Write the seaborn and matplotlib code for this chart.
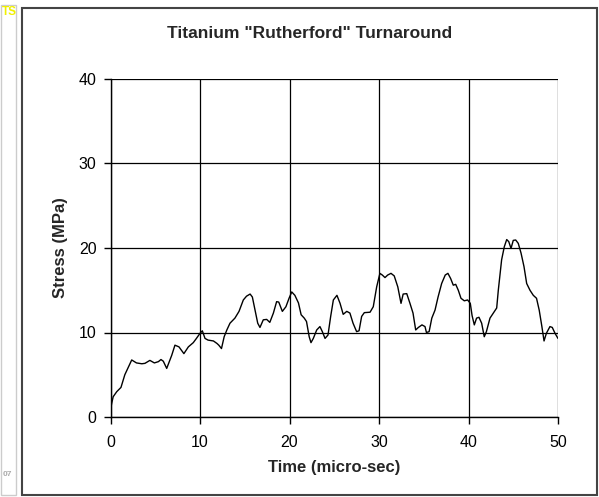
import matplotlib
matplotlib.use("Agg")
import matplotlib.pyplot as plt
import seaborn as sns
import pandas as pd
from matplotlib.patches import Rectangle

time_us = [
    0.0, 0.13, 0.3, 0.7, 1.17, 1.6, 2.37, 2.9, 3.5, 3.85,
    4.4, 4.9, 5.35, 5.64, 5.9, 6.28, 6.84, 7.2, 7.65, 8.2,
    8.7, 9.25, 9.6, 10.0, 10.26, 10.56, 10.9, 11.5, 11.9, 12.1,
    12.4, 12.7, 13.0, 13.35, 13.9, 14.36, 14.84, 15.2, 15.6, 15.85,
    16.15, 16.45, 16.7, 17.07, 17.45, 17.8, 18.2, 18.56, 18.8, 19.2,
    19.6, 19.95, 20.25, 20.6, 21.0, 21.3, 21.65, 21.9, 22.2, 22.4,
    22.66, 23.04, 23.4, 23.67, 23.97, 24.3, 24.6, 24.9, 25.3, 25.65,
    26.0, 26.4, 26.75, 27.1, 27.5, 27.77, 28.06, 28.36, 29.0, 29.36,
    29.74, 30.1, 30.37, 30.67, 30.97, 31.34, 31.7, 32.1, 32.46, 32.7,
    33.1, 33.46, 33.8, 34.1, 34.4, 34.8, 35.14, 35.3, 35.6, 35.9,
    36.26, 36.6, 37.0, 37.4, 37.7, 38.0, 38.3, 38.57, 38.86, 39.16,
    39.53, 39.9, 40.2, 40.4, 40.65, 40.9, 41.17, 41.47, 41.76, 42.0,
    42.4, 42.77, 43.15, 43.33, 43.7, 44.0, 44.27, 44.5, 44.75, 45.0,
    45.27, 45.56, 45.87, 46.2, 46.5, 46.87, 47.24, 47.6, 47.9, 48.2,
    48.44, 48.7, 49.1, 49.36, 49.67, 50.0,
]
stress_mpa = [
    0.8, 1.6, 2.4, 3.0, 3.5, 5.0, 6.75, 6.4, 6.3, 6.35,
    6.7, 6.4, 6.55, 6.8, 6.6, 5.75, 7.3, 8.5, 8.3, 7.5,
    8.3, 8.8, 9.3, 9.9, 10.2, 9.3, 9.1, 9.0, 8.7, 8.5,
    8.1, 9.5, 10.3, 11.1, 11.7, 12.5, 13.85, 14.3, 14.55, 14.2,
    12.65, 11.1, 10.6, 11.5, 11.55, 11.2, 12.3, 13.65, 13.6, 12.5,
    13.05, 14.05, 14.8, 14.4, 13.5, 12.1, 11.7, 11.3, 9.5, 8.8,
    9.3, 10.3, 10.7, 10.1, 9.3, 9.7, 11.9, 13.85, 14.4, 13.45,
    12.15, 12.5, 12.3, 11.1, 10.1, 10.2, 11.9, 12.35, 12.4, 13.05,
    15.4, 17.0, 16.8, 16.5, 16.8, 17.0, 16.7, 15.4, 13.45, 14.55,
    14.6, 13.45, 12.3, 10.3, 10.6, 10.9, 10.7, 10.0, 10.1, 11.7,
    12.65, 14.2, 15.8, 16.8, 17.0, 16.4, 15.6, 15.7, 15.0, 14.05,
    13.75, 13.85, 13.45, 12.0, 10.9, 11.7, 11.8, 11.1, 9.5, 10.1,
    11.7, 12.3, 12.9, 15.0, 18.6, 20.15, 21.0, 20.75, 19.95, 20.9,
    20.95, 20.55, 19.4, 17.8, 15.8, 15.0, 14.4, 14.05, 12.65, 10.7,
    9.0, 9.9, 10.7, 10.6, 9.9, 9.3,
]
x_ticks = [0, 10, 20, 30, 40, 50]
y_ticks = [0, 10, 20, 30, 40]
title = 'Titanium "Rutherford" Turnaround'
x_label = "Time (micro-sec)"
y_label = "Stress (MPa)"

sns.set_style("white")
plt.rcParams["font.family"] = ["Liberation Sans", "DejaVu Sans"]

df = pd.DataFrame({"time": time_us, "stress": stress_mpa})

W, H = 599, 497
fig = plt.figure(figsize=(W / 100, H / 100), dpi=100)
fig.patch.set_facecolor("white")

# axes placement (pixel based)
left, right, top, bottom = 110.5, 558.0, 79.0, 417.0
ax = fig.add_axes([left / W, 1 - bottom / H, (right - left) / W, (bottom - top) / H])

sns.lineplot(data=df, x="time", y="stress", ax=ax, color="black",
             linewidth=1.0, sort=False, estimator=None)

ax.set_xlim(0, 50)
ax.set_ylim(0, 40)
ax.set_xticks(x_ticks)
ax.set_yticks(y_ticks)
ax.grid(True, color="black", linewidth=0.9)
ax.set_axisbelow(True)
for side in ["top", "right"]:
    ax.spines[side].set_visible(False)
for side in ["left", "bottom"]:
    ax.spines[side].set_color("black")
    ax.spines[side].set_linewidth(1.0)
ax.tick_params(axis="both", direction="out", length=5, width=1.0,
               color="black", labelsize=11.5, labelcolor="black",
               left=True, bottom=True)
ax.tick_params(axis="x", pad=8)
ax.tick_params(axis="y", pad=5)
ax.set_xlabel(x_label, fontsize=12, fontweight="bold", labelpad=7)
ax.set_ylabel(y_label, fontsize=12, fontweight="bold", labelpad=8)
fig.text(310 / W, 1 - 33 / H, title, ha="center", va="center",
         fontsize=12.5, fontweight="bold")

# chart area border
fig.patches.append(Rectangle((22 / W, 2 / H), (597 - 22) / W, (489 - 2) / H,
                             transform=fig.transFigure, fill=False,
                             edgecolor="#444444", linewidth=1.5))
# side strip
fig.patches.append(Rectangle((0.5 / W, 2 / H), 15 / W, (492 - 2) / H,
                             transform=fig.transFigure, fill=False,
                             edgecolor="#cccccc", linewidth=1.0))
fig.text(2 / W, 1 - 12 / H, "TS", color="#f0f000", fontsize=8.5,
         fontweight="bold", va="center", ha="left")
fig.text(3 / W, 1 - 475 / H, "07", color="#aaaaaa", fontsize=6,
         fontweight="bold", va="center", ha="left")

fig.savefig("out.png", dpi=100, facecolor="white")
